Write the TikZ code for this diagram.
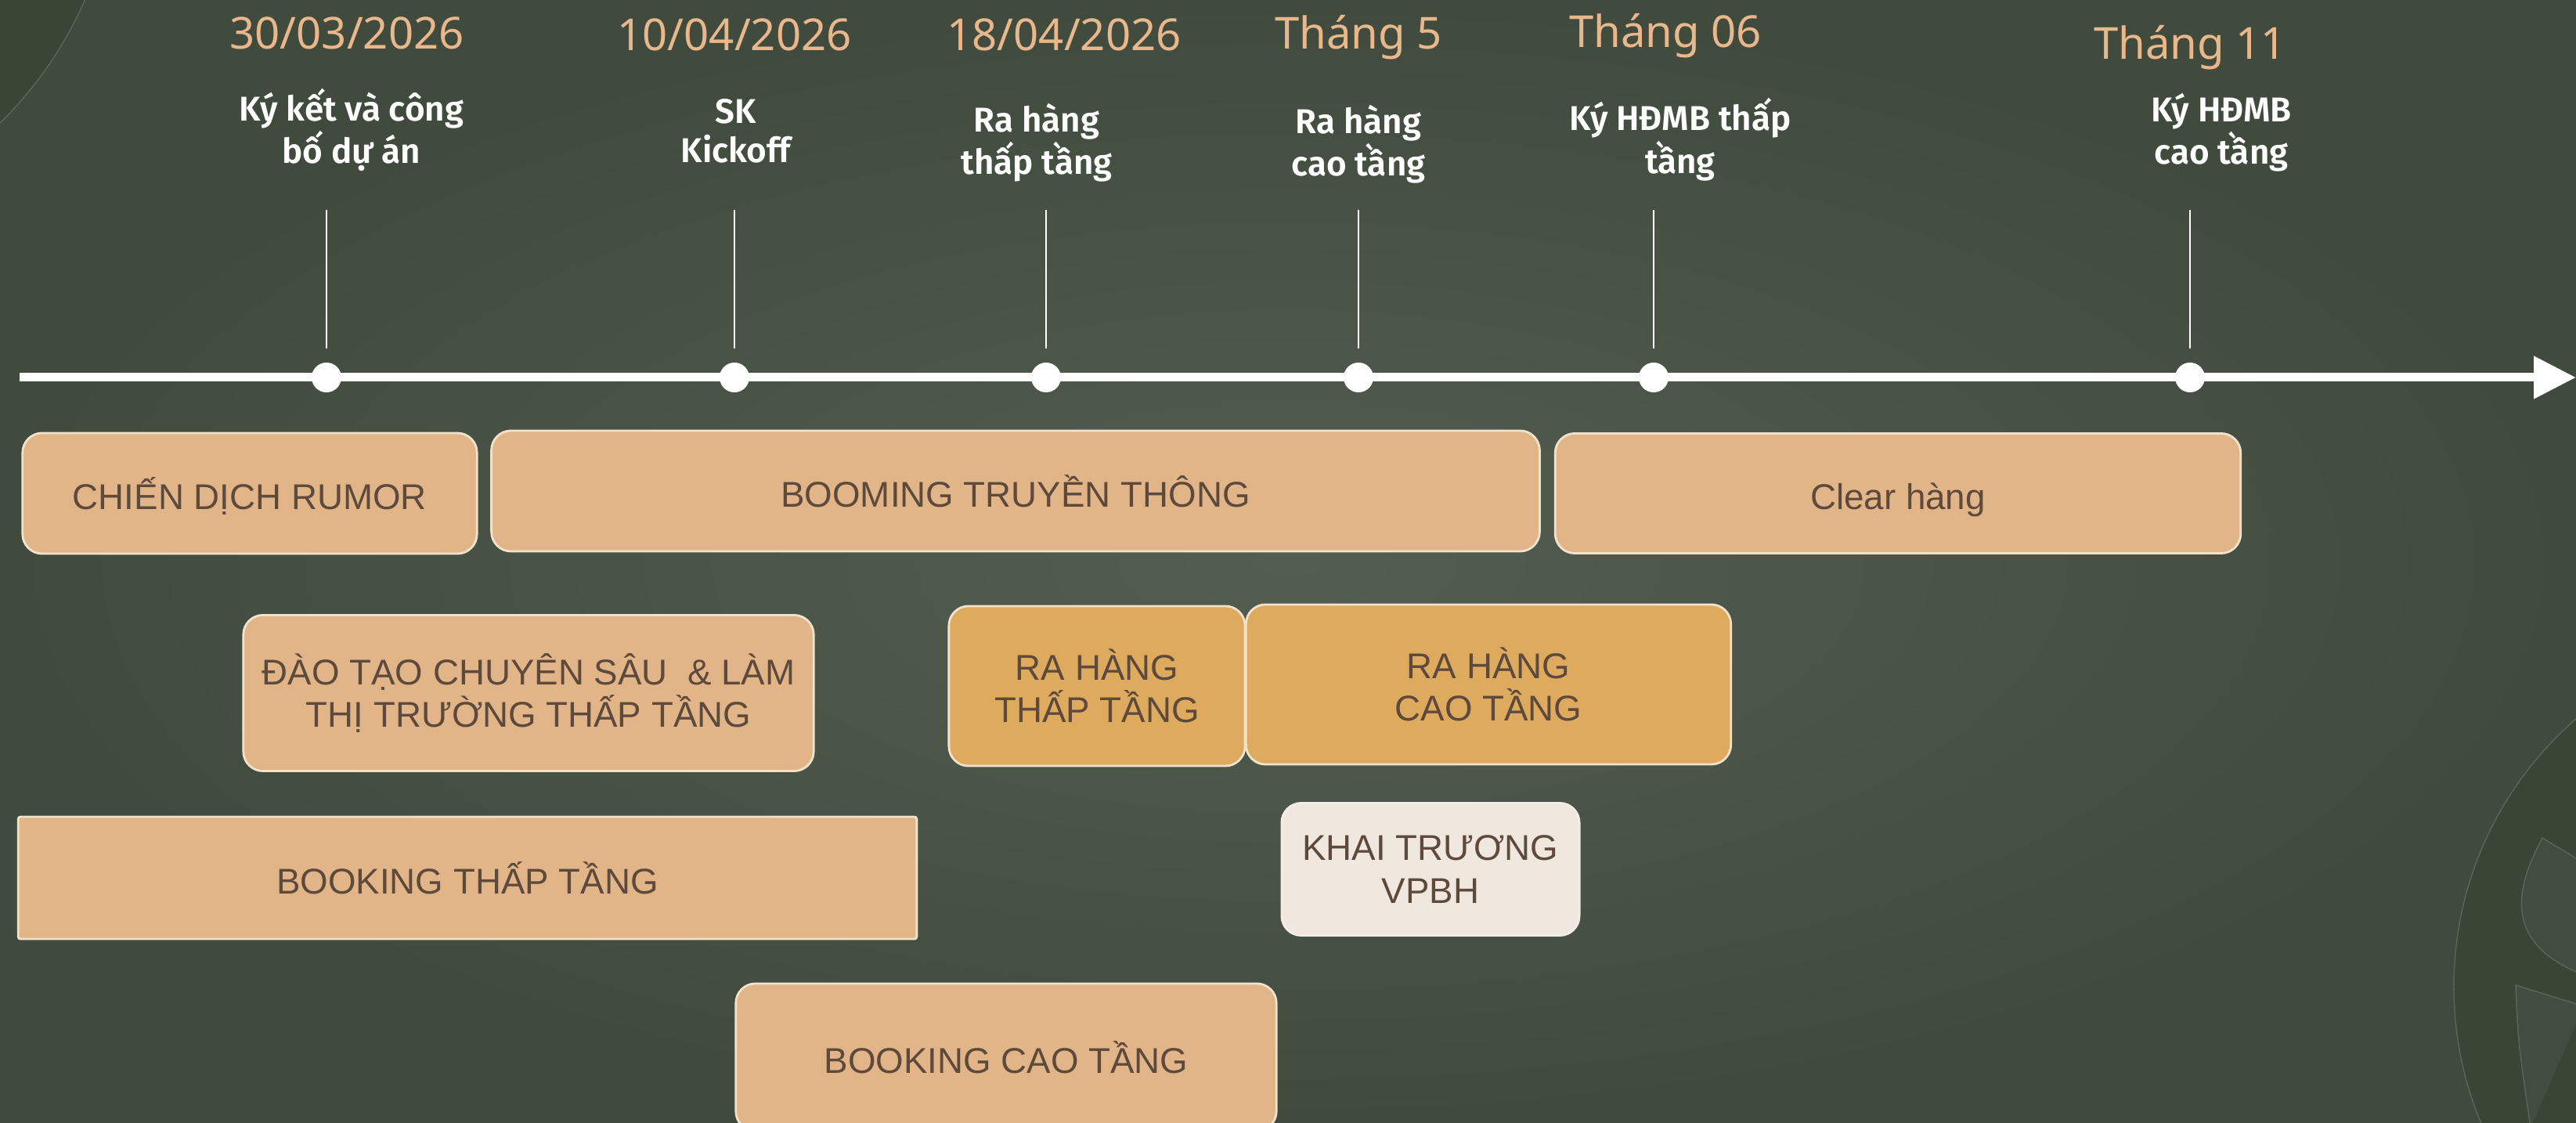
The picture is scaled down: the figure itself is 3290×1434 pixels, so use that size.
\documentclass[tikz,border=0pt]{standalone}
\usepackage{fontspec}
\setmainfont{Noto Sans}
\newfontfamily\evfont{Fira Sans}[BoldFont={Fira Sans SemiBold}]
\newfontfamily\boxfont{Liberation Sans}
\usetikzlibrary{arrows.meta}
\definecolor{bgin}{HTML}{535E51}
\definecolor{bgout}{HTML}{404B3E}
\definecolor{deco}{HTML}{3A4536}
\definecolor{decoline}{HTML}{5B6658}
\definecolor{datecol}{HTML}{E8B78C}
\definecolor{tan}{HTML}{E2B588}
\definecolor{gold}{HTML}{DEAA5E}
\definecolor{cream}{HTML}{F0E8DE}
\definecolor{edge}{HTML}{F2E2CC}
\definecolor{ink}{HTML}{5E4A3C}
\begin{document}
\begin{tikzpicture}[x=0.01cm, y=-0.01cm,
    dot/.style={circle, fill=white, inner sep=0pt, minimum size=0.38cm},
    tick/.style={white, line width=0.8pt},
    date/.style={text=datecol, font=\fontsize{16}{19}\selectfont},
    event/.style={text=white, align=center, font=\evfont\bfseries\fontsize{12.5}{14.2}\selectfont},
    phase/.style={draw=edge, line width=0.8pt, fill=tan, rounded corners=0.25cm,
        text=ink, align=center, inner sep=0pt, font=\boxfont\fontsize{13}{15.5}\selectfont},
    oneline/.style={text height=0.51cm, text depth=0.1cm}]
    \useasboundingbox (0,0) rectangle (3290,1434);
    \clip (0,0) rectangle (3290,1434);
    % background
    \shade[inner color=bgin, outer color=bgout] (0,0) rectangle (3290,1434);
    \fill[deco] (-350,-200) circle (500);
    \draw[decoline, line width=0.4pt] (-350,-200) circle (500);
    \draw[decoline, line width=0.4pt, fill=deco] (3587,1260) circle (453);
    \draw[decoline, line width=0.4pt, fill=bgout!92!bgin] (3300,1102) -- (3247,1070)
        .. controls (3212,1135) and (3196,1205) .. (3300,1245);
    \draw[decoline, line width=0.4pt, fill=bgout!92!bgin] (3300,1285) -- (3213,1258)
        .. controls (3216,1330) .. (3232,1440);
    % time axis
    \coordinate (axstart) at (25,482);
    \coordinate (axend) at (3290,482);
    \draw[white, line width=0.11cm, -{Triangle[length=0.54cm, width=0.52cm]}] (axstart) -- (axend);
    % milestones
    \foreach \x [count=\i] in {417,938,1336,1735,2112,2797}
        \node[dot] (t\i) at (\x,482) {};
    \foreach \i in {1,...,6}
        \draw[tick] ([yshift=0.17cm]t\i.north) -- ([yshift=1.94cm]t\i.north);
    % dates
    \node[date] (dt1) at (443,42)  {30/03/2026};
    \node[date] (dt2) at (938,44)  {10/04/2026};
    \node[date] (dt3) at (1359,44) {18/04/2026};
    \node[date] (dt4) at (1735,48) {Tháng 5};
    \node[date] (dt5) at (2127,46) {Tháng 06};
    \node[date] (dt6) at (2797,61) {Tháng 11};
    % events
    \node[event] (ev1) at (449,166)  {Ký kết và công\\bố dự án};
    \node[event] (ev2) at (940,167)  {SK\\Kickoff};
    \node[event] (ev3) at (1324,182) {Ra hàng\\thấp tầng};
    \node[event] (ev4) at (1735,184) {Ra hàng\\cao tầng};
    \node[event] (ev5) at (2146,178) {Ký HĐMB thấp\\tầng};
    \node[event] (ev6) at (2837,169) {Ký HĐMB\\cao tầng};
    % phases
    \node[phase, oneline, minimum width=5.8cm, minimum height=1.54cm] (rumor) at (319,630) {CHIẾN DỊCH RUMOR};
    \node[phase, oneline, minimum width=13.38cm, minimum height=1.54cm] (booming) at (1297,627) {BOOMING TRUYỀN THÔNG};
    \node[phase, oneline, minimum width=8.75cm, minimum height=1.53cm] (clear) at (2424,630) {Clear hàng};
    \node[phase, minimum width=7.28cm, minimum height=1.99cm] (daotao) at (675,885) {ĐÀO TẠO CHUYÊN SÂU~ \& LÀM\\THỊ TRƯỜNG THẤP TẦNG};
    \node[phase, fill=gold, minimum width=3.78cm, minimum height=2.04cm] (rathap) at (1401,876) {RA HÀNG\\THẤP TẦNG};
    \node[phase, fill=gold, minimum width=6.19cm, minimum height=2.04cm] (racao) at (1901,874) {RA HÀNG\\CAO TẦNG};
    \node[phase, fill=cream, draw=edge!80!ink!30, minimum width=3.8cm, minimum height=1.69cm] (khai) at (1827,1110) {KHAI TRƯƠNG\\VPBH};
    \node[phase, oneline, rounded corners=0.03cm, minimum width=11.47cm, minimum height=1.56cm] (bkthap) at (597,1121) {BOOKING THẤP TẦNG};
    \node[phase, oneline, minimum width=6.9cm, minimum height=1.88cm] (bkcao) at (1285,1350) {BOOKING CAO TẦNG};
\end{tikzpicture}
\end{document}
